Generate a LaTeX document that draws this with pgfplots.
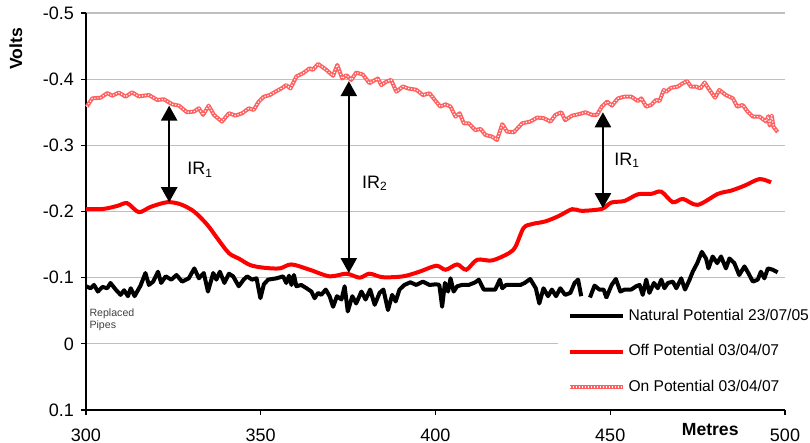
\documentclass[border=0pt]{standalone}
\usepackage{fontspec}
\setmainfont{Liberation Sans}
\usepackage{pgfplots}
\pgfplotsset{compat=1.18}
\usetikzlibrary{arrows.meta}

\definecolor{gridgray}{RGB}{191,191,191}
\definecolor{onpink}{RGB}{255,95,95}

\begin{document}
\begin{tikzpicture}
\begin{axis}[
  scale only axis, width=349.5pt, height=198.5pt,
  xmin=300, xmax=500, ymin=-0.5, ymax=0.1, y dir=reverse,
  axis x line*=bottom, axis y line*=left,
  axis line style={black, line width=0.7pt},
  xtick={300,350,400,450,500}, xticklabels={300,350,400,450,500},
  ytick={-0.5,-0.4,-0.3,-0.2,-0.1,0,0.1},
  yticklabels={-0.5,-0.4,-0.3,-0.2,-0.1,0,0.1},
  ticklabel style={font=\fontsize{9}{10}\selectfont},
  xticklabel style={yshift=-3.5pt},
  tick align=outside, major tick length=2.5pt,
  tick style={black, line width=0.6pt},
  ymajorgrids, major grid style={gridgray, line width=0.6pt},
  clip=false, unbounded coords=jump,
  legend style={at={(0.674,0.28)}, anchor=north west, draw=none, fill=white,
    font=\fontsize{7.8}{9}\selectfont, inner xsep=5pt, inner ysep=3pt,
    row sep=6.5pt, cells={anchor=west}},
  legend image code/.code={\draw[#1] (0pt,0pt) -- (26.5pt,0pt);},
]
% natural potential
\addplot[black, line width=2pt, line join=round] coordinates {
(300,-0.087)(301.3,-0.084)(302.3,-0.089)(303.4,-0.079)(304.7,-0.086)(306.1,-0.084)(307,-0.092)(308.5,-0.082)(309.9,-0.074)(310.9,-0.081)
(312,-0.072)(312.8,-0.084)(313.9,-0.072)(315.6,-0.088)(317,-0.107)(318,-0.089)(319.2,-0.094)(320.6,-0.109)(321.5,-0.092)(322.8,-0.102)
(324.4,-0.097)(325.9,-0.104)(327.5,-0.094)(329.4,-0.099)(331,-0.114)(332.3,-0.099)(333.7,-0.107)(334.9,-0.079)(336.4,-0.107)(337.3,-0.097)
(338.3,-0.109)(339.6,-0.092)(340.9,-0.106)(342.1,-0.102)(343.7,-0.087)(345.1,-0.097)(346.1,-0.102)(347.5,-0.097)(348.8,-0.099)(349.9,-0.069)
(350.9,-0.090)(352.1,-0.097)(354.5,-0.099)(356.4,-0.102)(357.3,-0.092)(358.1,-0.103)(358.8,-0.089)(359.5,-0.104)(360.2,-0.087)(361.6,-0.089)
(363.1,-0.084)(364.5,-0.079)(365.4,-0.069)(366.4,-0.077)(367.3,-0.074)(368.6,-0.082)(369.7,-0.072)(370.7,-0.056)(371.8,-0.072)(373.1,-0.067)
(374,-0.087)(374.9,-0.049)(376.2,-0.072)(377.3,-0.061)(378.8,-0.079)(380,-0.067)(381.3,-0.082)(382.6,-0.059)(384,-0.077)(385.1,-0.082)
(386.4,-0.051)(387.6,-0.074)(388.6,-0.064)(389.7,-0.082)(391.1,-0.089)(392.8,-0.093)(394.5,-0.089)(396.4,-0.094)(398.3,-0.089)(400.2,-0.090)
(401.1,-0.089)(401.9,-0.056)(402.7,-0.092)(403.6,-0.079)(404.3,-0.099)(405.2,-0.079)(406.2,-0.087)(407.6,-0.089)(409.5,-0.089)(411.4,-0.093)
(412.4,-0.097)(413.8,-0.082)(415.7,-0.082)(417.1,-0.082)(418.4,-0.097)(419.1,-0.084)(420.2,-0.089)(422.4,-0.089)(424.3,-0.089)(425.5,-0.092)
(427.1,-0.098)(428.7,-0.084)(429.7,-0.061)(430.9,-0.084)(432.2,-0.072)(433.3,-0.082)(434.5,-0.072)(435.7,-0.084)(437.1,-0.074)(438.6,-0.077)
(439.8,-0.092)(440.8,-0.097)(441.7,-0.072)(442.8,nan)(444.2,-0.070)(445.5,-0.088)(446.9,-0.082)(448.1,-0.082)(448.9,-0.070)(450.4,-0.089)
(451.6,-0.098)(452.9,-0.079)(454.1,-0.082)(456,-0.082)(457.4,-0.087)(458.4,-0.089)(459.3,-0.074)(460.3,-0.097)(461.2,-0.077)(462.5,-0.092)
(463.6,-0.084)(464.6,-0.097)(465.5,-0.084)(466.5,-0.092)(467.9,-0.094)(468.9,-0.084)(470.3,-0.099)(471.4,-0.082)(472.7,-0.097)(473.6,-0.109)
(474.9,-0.122)(476.2,-0.139)(477.4,-0.129)(478.1,-0.114)(479.3,-0.132)(480.6,-0.122)(481.7,-0.132)(483.1,-0.114)(484.1,-0.129)(485.5,-0.122)
(486.9,-0.104)(488.4,-0.117)(489.5,-0.107)(490.8,-0.094)(492.2,-0.097)(493.1,-0.109)(494.1,-0.099)(495.1,-0.114)(496.5,-0.112)(497.9,-0.108)
};
\addlegendentry{Natural Potential 23/07/05}
% off potential
\addplot[red, line width=2pt, smooth, tension=0.5] coordinates {
(300,-0.2035)(305.1,-0.204)(309,-0.2085)(311.8,-0.2125)(315.1,-0.199)(318.5,-0.207)(323.2,-0.214)(327,-0.211)(330.9,-0.200)(334.7,-0.180)
(337.5,-0.160)(340.9,-0.137)(343.7,-0.129)(347,-0.119)(350.9,-0.115)(355.4,-0.114)(358.8,-0.120)(364,-0.112)(369.7,-0.102)(374.5,-0.106)
(378.3,-0.100)(381.1,-0.106)(384.9,-0.1007)(390.7,-0.102)(395.4,-0.109)(400.2,-0.118)(402.9,-0.112)(406.2,-0.120)(408.8,-0.112)(411.9,-0.127)
(416.2,-0.126)(421,-0.137)(422.9,-0.147)(425.2,-0.175)(427.6,-0.181)(431.4,-0.185)(435.2,-0.193)(439.1,-0.2035)(441.9,-0.201)(447.6,-0.204)
(450.3,-0.2135)(454.1,-0.216)(457.9,-0.226)(461.7,-0.2266)(464.6,-0.230)(467.9,-0.214)(470.8,-0.219)(475,-0.210)(480.8,-0.2266)(484.6,-0.2316)
(488.4,-0.239)(492.7,-0.249)(496,-0.244)
};
\addlegendentry{Off Potential 03/04/07}
% on potential
\addplot[onpink, line width=2pt, line join=round,
  postaction={draw=white, line width=0.6pt, dash pattern=on 0.6pt off 0.9pt}] coordinates {
(300.2,-0.3585)(301.8,-0.371)(304.2,-0.372)(306.1,-0.379)(307.5,-0.375)(309.4,-0.3797)(311.3,-0.3736)(313.2,-0.380)(315.1,-0.374)(318,-0.376)
(320.4,-0.3686)(322.3,-0.3696)(324.7,-0.362)(326.6,-0.360)(328.9,-0.350)(330.9,-0.351)(332.3,-0.356)(333.5,-0.346)(335.1,-0.360)(336.6,-0.346)
(338.9,-0.3358)(340.9,-0.3485)(342.8,-0.345)(344.7,-0.3485)(346.6,-0.356)(348,-0.3535)(349.4,-0.366)(350.9,-0.3736)(352.6,-0.376)(354.5,-0.382)
(355.9,-0.386)(357.3,-0.391)(358.5,-0.386)(360.2,-0.404)(362.1,-0.409)(364,-0.4165)(364.9,-0.414)(366.4,-0.423)(368.8,-0.414)(370.7,-0.405)
(371.9,-0.4215)(373.3,-0.401)(374.5,-0.406)(375.9,-0.3988)(377.3,-0.410)(379.2,-0.407)(381.1,-0.394)(383.5,-0.401)(384.5,-0.391)(385.9,-0.396)
(387.3,-0.399)(388.8,-0.381)(390.7,-0.389)(392.1,-0.386)(394.5,-0.384)(396.4,-0.376)(398.3,-0.3786)(400.2,-0.366)(401.4,-0.3585)(402.9,-0.362)
(404.3,-0.3585)(405.7,-0.3434)(406.9,-0.3485)(408.1,-0.3333)(409.5,-0.3333)(411.4,-0.323)(412.9,-0.3248)(414.3,-0.3157)(416.2,-0.3132)(417.6,-0.308)
(419.1,-0.332)(420.5,-0.3207)(422.4,-0.3197)(424.8,-0.3333)(427.1,-0.3358)(429.1,-0.342)(431,-0.341)(432.9,-0.3358)(434.3,-0.346)(436,-0.350)
(437.1,-0.338)(439.1,-0.345)(441,-0.347)(442.9,-0.350)(444.8,-0.346)(446.2,-0.346)(447.6,-0.3585)(449.1,-0.366)(450.5,-0.360)(451.4,-0.366)
(452.2,-0.371)(454.1,-0.3736)(456,-0.3736)(457.9,-0.367)(458.9,-0.371)(460.3,-0.3585)(461.7,-0.361)(463.1,-0.3686)(464.1,-0.367)(465.3,-0.3837)
(466,-0.381)(467.4,-0.387)(469.3,-0.3887)(470.8,-0.394)(472,-0.397)(473.1,-0.3887)(474.6,-0.3887)(475.8,-0.386)(477,-0.395)(478.4,-0.3837)
(480,-0.372)(481.2,-0.3837)(483.1,-0.376)(485.1,-0.371)(486.3,-0.3585)(487.9,-0.361)(489.3,-0.351)(490.8,-0.3434)(492.7,-0.3434)(494.6,-0.336)
(495.2,-0.344)(495.6,-0.330)(496.2,-0.345)(496.7,-0.328)(497.9,-0.320)
};
\addlegendentry{On Potential 03/04/07}

% annotations
\draw[line width=1.2pt, {Triangle[width=8pt,length=7.5pt]}-{Triangle[width=8pt,length=7.5pt]}]
  (axis cs:323.8,-0.360) -- (axis cs:323.8,-0.214);
\draw[line width=1.2pt, {Triangle[width=8pt,length=7.5pt]}-{Triangle[width=8pt,length=7.5pt]}]
  (axis cs:375.2,-0.397) -- (axis cs:375.2,-0.107);
\draw[line width=1.2pt, {Triangle[width=8pt,length=7.5pt]}-{Triangle[width=8pt,length=7.5pt]}]
  (axis cs:447.9,-0.350) -- (axis cs:447.9,-0.205);
\node[anchor=west, inner sep=0pt, font=\fontsize{9}{10}\selectfont] at (axis cs:328.9,-0.263) {IR\textsubscript{1}};
\node[anchor=west, inner sep=0pt, font=\fontsize{9}{10}\selectfont] at (axis cs:378.9,-0.243) {IR\textsubscript{2}};
\node[anchor=west, inner sep=0pt, font=\fontsize{9}{10}\selectfont] at (axis cs:451.1,-0.278) {IR\textsubscript{1}};
\node[anchor=north west, align=left, inner sep=0pt, text=black!75,
  font=\fontsize{5.3}{6}\selectfont] at (axis cs:300.9,-0.054) {Replaced\\Pipes};
\node[rotate=90, font=\bfseries\fontsize{8.8}{10}\selectfont] at (axis cs:279.9,-0.4456) {Volts};
\node[font=\bfseries\fontsize{8.8}{10}\selectfont] at (axis cs:478.6,0.130) {Metres};
\end{axis}
\pgfresetboundingbox
\path[use as bounding box] ([shift={(-43pt,-16.5pt)}]current axis.south west)
  rectangle ([shift={(12.5pt,6.5pt)}]current axis.north east);
\end{tikzpicture}
\end{document}
